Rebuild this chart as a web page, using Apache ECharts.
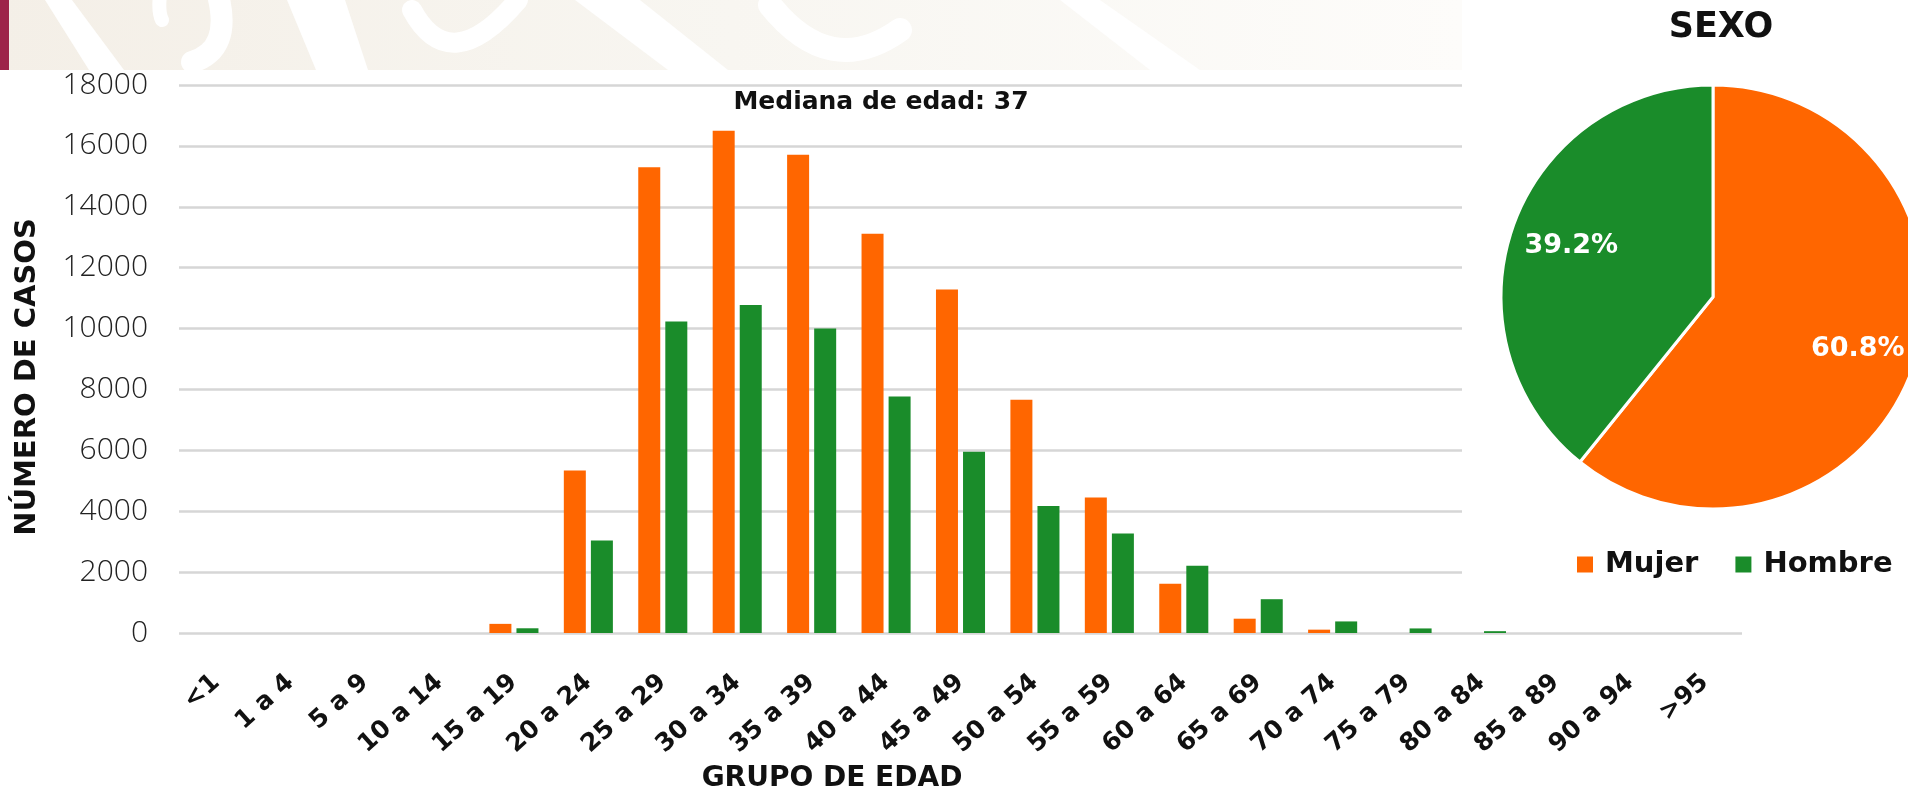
<!DOCTYPE html>
<html><head><meta charset="utf-8">
<script src="https://cdn.jsdelivr.net/npm/echarts@6/dist/echarts.min.js"></script>
<style>html,body{margin:0;padding:0;background:#fff}#c{width:1908px;height:794px}</style>
</head><body><div id="c"></div>
<script>
// ---- data ----
const categories = ['<1','1 a 4','5 a 9','10 a 14','15 a 19','20 a 24','25 a 29','30 a 34','35 a 39','40 a 44','45 a 49','50 a 54','55 a 59','60 a 64','65 a 69','70 a 74','75 a 79','80 a 84','85 a 89','90 a 94','>95'];
const mujer  = [0,0,0,0,300,5340,15300,16500,15710,13110,11280,7660,4450,1620,470,110,0,0,0,0,0];
const hombre = [0,0,0,0,155,3040,10230,10770,10000,7770,5950,4170,3270,2210,1110,380,150,60,0,0,0];
const yMin = 0, yMax = 18000, yInterval = 2000;
const sexNames = ['Mujer','Hombre'];
const sexPct = [60.8, 39.2];
const medianText = 'Mediana de edad: 37';
const yAxisTitle = 'NÚMERO DE CASOS';
const xAxisTitle = 'GRUPO DE EDAD';
const pieTitle = 'SEXO';

const ORANGE = '#ff6600', GREEN = '#1a8c2a';
const BOLD = 'DejaVu Sans, Noto Sans, sans-serif';

const chart = echarts.init(document.getElementById('c'), null, {renderer:'canvas'});

const band = [
  {type:'rect', z:-10, shape:{x:0,y:0,width:1462,height:70},
   style:{fill:new echarts.graphic.LinearGradient(0,0,1,0,[{offset:0,color:'#f4efe7'},{offset:0.5,color:'#f8f6f1'},{offset:1,color:'#fdfcfa'}])}},
  {type:'polygon', z:-9, shape:{points:[[45,0],[72,0],[124,70],[89,70]]}, style:{fill:'#ffffff'}},
  {type:'bezierCurve', z:-9, shape:{x1:160,y1:-5,cpx1:158,cpy1:12,x2:162,y2:20}, style:{stroke:'#ffffff',lineWidth:14,lineCap:'round',fill:null}},
  {type:'bezierCurve', z:-9, shape:{x1:218,y1:-5,cpx1:232,cpy1:50,x2:192,y2:62}, style:{stroke:'#ffffff',lineWidth:22,lineCap:'round',fill:null}},
  {type:'polygon', z:-9, shape:{points:[[287,0],[345,0],[368,70],[316,70]]}, style:{fill:'#ffffff'}},
  {type:'bezierCurve', z:-9, shape:{x1:412,y1:10,cpx1:450,cpy1:80,x2:518,y2:0}, style:{stroke:'#ffffff',lineWidth:20,lineCap:'round',fill:null}},
  {type:'polygon', z:-9, shape:{points:[[575,0],[640,0],[728,70],[668,70]]}, style:{fill:'#ffffff'}},
  {type:'bezierCurve', z:-9, shape:{x1:770,y1:5,cpx1:830,cpy1:80,x2:900,y2:30}, style:{stroke:'#ffffff',lineWidth:24,lineCap:'round',fill:null}},
  {type:'polygon', z:-9, shape:{points:[[1060,0],[1100,0],[1200,70],[1150,70]]}, style:{fill:'#ffffff'}},
  {type:'rect', z:-8, shape:{x:0,y:0,width:9,height:70}, style:{fill:'#9d2449'}},
  // white panel behind the pie (covers the grid lines on the right)
  {type:'rect', z:1, shape:{x:1462,y:0,width:446,height:612}, style:{fill:'#ffffff'}},
  {type:'text', z:5, x:1721, y:28, style:{text:pieTitle, font:'bold 35px ' + BOLD, fill:'#111', textAlign:'center', textVerticalAlign:'middle'}},
  {type:'text', z:5, x:881, y:102, style:{text:medianText, font:'bold 25px ' + BOLD, fill:'#111', textAlign:'center', textVerticalAlign:'middle'}},
  {type:'text', z:5, x:27, y:377, rotation:Math.PI/2, style:{text:yAxisTitle, font:'bold 29px ' + BOLD, fill:'#111', textAlign:'center', textVerticalAlign:'middle'}},
  {type:'text', z:5, x:832, y:779, style:{text:xAxisTitle, font:'bold 28px ' + BOLD, fill:'#111', textAlign:'center', textVerticalAlign:'middle'}}
];

const pieOffsets = [[42,16],[-39,-15]];

chart.setOption({
  animation:false,
  backgroundColor:'#ffffff',
  graphic: band,
  grid:{left:179, right:166, top:85, bottom:161, outerBoundsMode:'none'},
  legend:{
    data:sexNames, left:1572, top:545, itemWidth:16, itemHeight:16, itemGap:37, icon:'rect',
    textStyle:{fontFamily:BOLD, fontWeight:'bold', fontSize:29, color:'#111', padding:[0,0,0,7]}
  },
  xAxis:{
    type:'category', data:categories,
    axisLine:{show:false}, axisTick:{show:false},
    axisLabel:{interval:0, rotate:42, margin:46, fontFamily:BOLD, fontWeight:'bold', fontSize:25, color:'#111'},
    splitLine:{show:false}
  },
  yAxis:{
    type:'value', min:yMin, max:yMax, interval:yInterval,
    axisLine:{show:false}, axisTick:{show:false},
    axisLabel:{margin:31, fontFamily:'Open Sans, sans-serif', fontWeight:300, fontSize:30, color:'#222', formatter:function(v){return String(v);}},
    splitLine:{show:true, lineStyle:{color:'#d6d6d6', width:2.5}}
  },
  series:[
    {name:sexNames[0], type:'bar', data:mujer, barWidth:22, barGap:'23%', z:2,
     itemStyle:{color:ORANGE}},
    {name:sexNames[1], type:'bar', data:hombre, barWidth:22, barGap:'23%', z:2,
     itemStyle:{color:GREEN}},
    {name:'Sexo', type:'pie', center:[1713,297], radius:[0,212], startAngle:90, clockwise:true, z:3,
     data: sexNames.map((n,i)=>({name:n, value:sexPct[i], itemStyle:{color:[ORANGE,GREEN][i]}})),
     itemStyle:{borderColor:'#ffffff', borderWidth:3},
     label:{show:true, position:'inside', formatter:'{c}%', fontFamily:BOLD, fontWeight:'bold', fontSize:27, color:'#ffffff'},
     labelLine:{show:false},
     labelLayout:function(p){ const o = pieOffsets[p.dataIndex]; return {dx:o[0], dy:o[1]}; },
     emphasis:{disabled:true}
    }
  ]
});
</script></body></html>
